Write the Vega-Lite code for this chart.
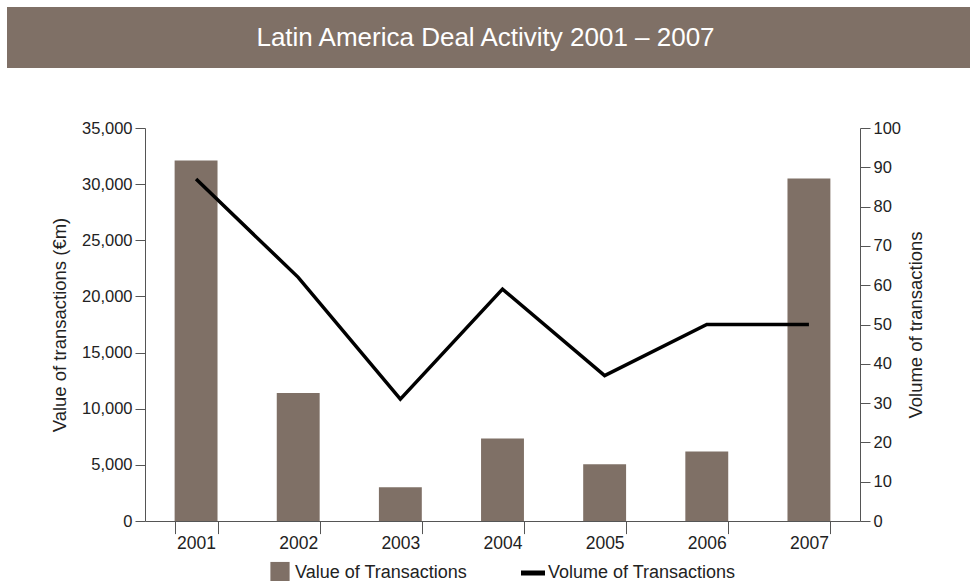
{
  "$schema": "https://vega.github.io/schema/vega-lite/v6.json",
  "padding": {"top": 7, "left": 7, "right": 0, "bottom": 0},
  "background": "white",
  "config": {
    "font": "Liberation Sans",
    "view": {"stroke": null},
    "axis": {
      "grid": false,
      "domainColor": "#555555",
      "tickColor": "#555555",
      "labelColor": "#222222",
      "titleColor": "#222222",
      "titleFontWeight": "normal",
      "labelFont": "Liberation Sans",
      "titleFont": "Liberation Sans"
    },
    "legend": {"labelFont": "Liberation Sans"}
  },
  "spacing": 52,
  "vconcat": [
    {
      "width": 963,
      "height": 61,
      "view": {"fill": "#7f7066", "stroke": null},
      "data": {"values": [{"t": "Latin America Deal Activity 2001 – 2007"}]},
      "mark": {"type": "text", "fontSize": 26, "color": "#ffffff", "align": "center", "baseline": "middle", "font": "Liberation Sans", "dx": -3},
      "encoding": {"text": {"field": "t"}}
    },
    {
      "spacing": 10,
      "hconcat": [
        {
          "width": 33,
          "height": 10,
          "data": {"values": [{"t": ""}]},
          "mark": {"type": "text"},
          "encoding": {"text": {"field": "t"}}
        },
        {
          "width": 715,
          "height": 393,
          "data": {
            "values": [
              {"year": "2001", "value": 32100, "volume": 87},
              {"year": "2002", "value": 11400, "volume": 62},
              {"year": "2003", "value": 3000, "volume": 31},
              {"year": "2004", "value": 7350, "volume": 59},
              {"year": "2005", "value": 5050, "volume": 37},
              {"year": "2006", "value": 6200, "volume": 50},
              {"year": "2007", "value": 30500, "volume": 50}
            ]
          },
          "layer": [
            {
              "mark": {"type": "bar"},
              "encoding": {
                "x": {
                  "field": "year", "type": "ordinal",
                  "scale": {"paddingInner": 0.58, "paddingOuter": 0.29},
                  "axis": {
                    "title": null, "labelAngle": 0, "tickBand": "extent",
                    "tickSize": 12.6, "labelPadding": 1, "labelFontSize": 17.5
                  }
                },
                "y": {
                  "field": "value", "type": "quantitative",
                  "scale": {"domain": [0, 35000], "nice": false},
                  "axis": {
                    "title": "Value of transactions (€m)",
                    "values": [0, 5000, 10000, 15000, 20000, 25000, 30000, 35000],
                    "format": ",.0f", "tickSize": 10, "labelPadding": 3,
                    "labelFontSize": 16.5, "titleFontSize": 18.5, "titlePadding": 12
                  }
                },
                "color": {
                  "datum": "Value of Transactions", "type": "nominal",
                  "scale": {"domain": ["Value of Transactions", "Volume of Transactions"], "range": ["#7f7066", "#000000"]},
                  "legend": {
                    "title": null, "orient": "none", "direction": "horizontal",
                    "legendX": 261, "legendY": 553.5, "padding": 0,
                    "labelFontSize": 18, "labelColor": "#222222", "labelOffset": 3, "labelLimit": 400,
                    "columnPadding": 53, "symbolSize": 576, "symbolStrokeWidth": 0,
                    "encode": {
                      "symbols": {
                        "update": {
                          "shape": {"signal": "datum.value === 'Value of Transactions' ? 'M-0.8,-0.92L0.8,-0.92L0.8,0.92L-0.8,0.92Z' : 'M-1,-0.92L-1,0.92M-1,-0.2L1,-0.2L1,0.2L-1,0.2Z'"},
                          "fill": {"signal": "datum.value === 'Value of Transactions' ? '#7f7066' : '#000000'"},
                          "stroke": {"value": "transparent"},
                          "strokeWidth": {"value": 0},
                          "opacity": {"value": 1},
                          "fillOpacity": {"value": 1}
                        }
                      }
                    }
                  }
                }
              }
            },
            {
              "mark": {"type": "line", "strokeWidth": 3.5, "strokeJoin": "miter"},
              "encoding": {
                "x": {"field": "year", "type": "ordinal"},
                "y": {
                  "field": "volume", "type": "quantitative",
                  "scale": {"domain": [0, 100], "nice": false},
                  "axis": {
                    "orient": "right", "title": "Volume of transactions",
                    "values": [0, 10, 20, 30, 40, 50, 60, 70, 80, 90, 100],
                    "tickSize": 10, "labelPadding": 3, "labelFontSize": 16.5,
                    "titleFontSize": 18.5, "titleAngle": 270, "titleBaseline": "top", "titlePadding": 6
                  }
                },
                "color": {"datum": "Volume of Transactions", "type": "nominal"}
              }
            }
          ],
          "resolve": {"scale": {"y": "independent"}}
        }
      ]
    }
  ]
}
